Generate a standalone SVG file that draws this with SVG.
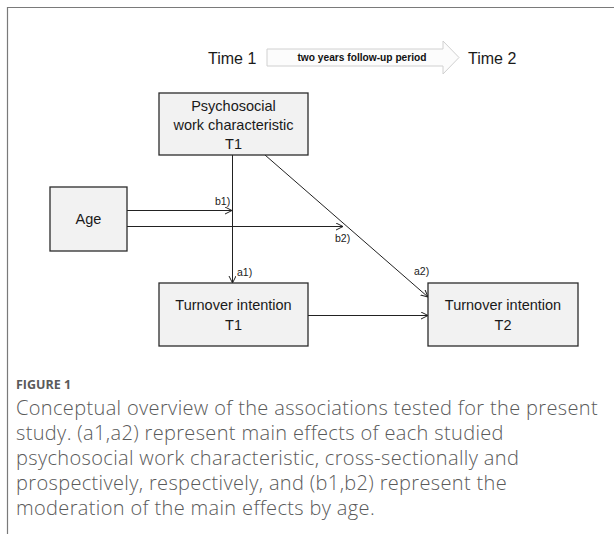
<svg xmlns="http://www.w3.org/2000/svg" width="614" height="534" viewBox="0 0 614 534">
<style>
.box{fill:#f2f2f2;stroke:#2b2b2b;stroke-width:1.3}
.t{font-family:"Liberation Sans",Arial,sans-serif;font-size:14.5px;fill:#1a1a1a;text-anchor:middle}
.time{font-family:"Liberation Sans",Arial,sans-serif;font-size:16px;fill:#1a1a1a}
.lbl{font-family:"Liberation Sans",Arial,sans-serif;font-size:10.5px;fill:#1a1a1a}
.ln{stroke:#222;stroke-width:1;fill:none}
.cap{font-family:"Open Sans","Liberation Sans",sans-serif;font-size:20px;font-weight:300;letter-spacing:0.35px;fill:#5a5a5a}
.fig{font-family:"Open Sans","Liberation Sans",sans-serif;font-size:12.5px;font-weight:bold;fill:#5a5a5a}
</style>
<defs>
<marker id="ah" markerWidth="8" markerHeight="8" refX="7" refY="3.5" orient="auto" markerUnits="userSpaceOnUse">
<path d="M0,0 L7,3.5 L0,7" fill="none" stroke="#222" stroke-width="1"/>
</marker>
</defs>
<rect width="614" height="534" fill="#ffffff"/>
<g id="frame"><path d="M7.5,534 V7.5 H614" fill="none" stroke="#7a7a7a" stroke-width="1.2"/></g>
<g id="timeline">
<text class="time" x="208" y="64">Time 1</text>
<path d="M267,49 H443 V41 L459,57.5 L443,74 V66 H267 Z" fill="#fcfcfc" stroke="#d0d0d0" stroke-width="1"/>
<text x="362" y="61" font-family="Liberation Sans,Arial,sans-serif" font-size="10.2" font-weight="bold" fill="#111" text-anchor="middle">two years follow-up period</text>
<text class="time" x="468" y="64">Time 2</text>
</g>
<g id="connectors">
<line class="ln" x1="232.5" y1="155" x2="232.5" y2="283" stroke="#555" marker-end="url(#ah)"/>
<line class="ln" x1="127" y1="210.5" x2="232" y2="210.5" marker-end="url(#ah)"/>
<line class="ln" x1="127" y1="226.5" x2="343" y2="226.5" marker-end="url(#ah)"/>
<line class="ln" x1="265" y1="155" x2="428" y2="297" marker-end="url(#ah)"/>
<line class="ln" x1="308" y1="315.5" x2="428" y2="315.5" marker-end="url(#ah)"/>
<text class="lbl" x="215" y="205">b1)</text>
<text class="lbl" x="335" y="242">b2)</text>
<text class="lbl" x="237" y="276">a1)</text>
<text class="lbl" x="414" y="275">a2)</text>
</g>
<g id="psychosocial">
<rect class="box" x="159" y="93" width="149" height="62"/>
<text class="t" x="233.5" y="111">Psychosocial</text>
<text class="t" x="233.5" y="130">work characteristic</text>
<text class="t" x="233.5" y="149">T1</text>
</g>
<g id="age">
<rect class="box" x="50" y="187" width="77" height="64"/>
<text class="t" x="88.5" y="224">Age</text>
</g>
<g id="turnover-t1">
<rect class="box" x="159" y="283" width="149" height="63"/>
<text class="t" x="233.5" y="310">Turnover intention</text>
<text class="t" x="233.5" y="330">T1</text>
</g>
<g id="turnover-t2">
<rect class="box" x="428" y="283" width="150" height="63"/>
<text class="t" x="503" y="310">Turnover intention</text>
<text class="t" x="503" y="330">T2</text>
</g>
<g id="caption">
<text class="fig" x="16" y="389">FIGURE 1</text>
<text class="cap" x="16" y="415">Conceptual overview of the associations tested for the present</text>
<text class="cap" x="16" y="440">study. (a1,a2) represent main effects of each studied</text>
<text class="cap" x="16" y="465">psychosocial work characteristic, cross-sectionally and</text>
<text class="cap" x="16" y="490">prospectively, respectively, and (b1,b2) represent the</text>
<text class="cap" x="16" y="515">moderation of the main effects by age.</text>
</g>
</svg>
